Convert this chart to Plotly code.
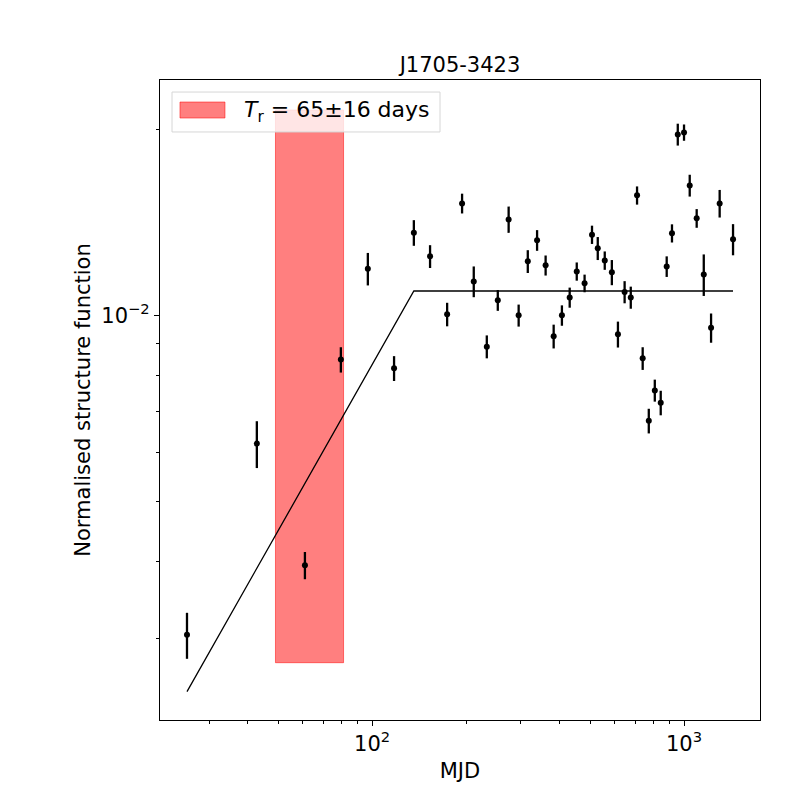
import plotly.graph_objects as go

# lag (days) and normalised structure function
lag = [25.5, 42.7, 60.9, 79.4, 96.9, 117.6, 136.1, 153.4, 174, 194.3,
       211.8, 233.2, 252.9, 274, 295, 315.6, 338, 360, 382, 406,
       430, 453, 480, 507, 529, 557, 587, 614, 645, 675,
       707, 737, 771, 806, 842, 880, 915, 955, 1000, 1043,
       1098, 1157, 1221, 1301, 1436]
sf = [0.00304, 0.00620, 0.00394, 0.00848, 0.01190, 0.00821, 0.01361, 0.01246, 0.01004, 0.01518,
      0.01135, 0.00890, 0.01058, 0.01430, 0.01000, 0.01223, 0.01323, 0.01205, 0.00925, 0.01000,
      0.01069, 0.01178, 0.01127, 0.01351, 0.01284, 0.01227, 0.01174, 0.00932, 0.01091, 0.01069,
      0.01564, 0.00852, 0.00675, 0.00756, 0.00722, 0.01200, 0.01358, 0.01963, 0.01977, 0.01623,
      0.01436, 0.01165, 0.00955, 0.01518, 0.01328]
sf_err = [0.00026, 0.00054, 0.00020, 0.00040, 0.00072, 0.00038, 0.00065, 0.00053, 0.00044, 0.00056,
          0.00065, 0.00038, 0.00041, 0.00070, 0.00041, 0.00052, 0.00051, 0.00045, 0.00041, 0.00038,
          0.00040, 0.00040, 0.00037, 0.00046, 0.00055, 0.00042, 0.00055, 0.00045, 0.00045, 0.00044,
          0.00053, 0.00036, 0.00031, 0.00031, 0.00033, 0.00046, 0.00046, 0.00080, 0.00060, 0.00066,
          0.00050, 0.00090, 0.00052, 0.00078, 0.00077]

# broken power-law fit
model_lag = [25.5, 136.1, 1436]
model_sf = [0.00246, 0.01095, 0.01095]

# refractive timescale
t_r = 65
t_r_err = 16
band_lo, band_hi = 0.00274, 0.0215

FONT = "DejaVu Sans"
FS = 21
RED = "rgba(255,0,0,0.5)"

fig = go.Figure()

bx = [t_r - t_r_err, t_r + t_r_err]
fig.add_trace(go.Scatter(
    x=[bx[0], bx[1], bx[1], bx[0], bx[0]],
    y=[band_lo, band_lo, band_hi, band_hi, band_lo],
    fill="toself", fillcolor=RED,
    line=dict(color=RED, width=1),
    mode="lines", showlegend=False,
))

fig.add_trace(go.Scatter(
    x=lag, y=sf, mode="markers",
    marker=dict(color="black", size=6),
    error_y=dict(type="data", array=sf_err, color="black", thickness=2.3, width=0),
    showlegend=False,
))

fig.add_trace(go.Scatter(
    x=model_lag, y=model_sf, mode="lines",
    line=dict(color="black", width=1.3),
    showlegend=False,
))

x_minor = [v * d for d in (10, 100) for v in range(2, 10)] + [2000]
y_minor = [v * 1e-3 for v in range(2, 10)] + [0.02]

axis_common = dict(
    type="log", showline=True, linecolor="black", linewidth=1.2, mirror=True,
    ticks="outside", ticklen=5, tickwidth=1.2, tickcolor="black",
    showgrid=False, zeroline=False,
    tickfont=dict(family=FONT, size=FS, color="black"),
)

fig.update_xaxes(
    **axis_common,
    range=[1.320, 3.2436],
    tickvals=[100, 1000], ticktext=["10<sup>2</sup>", "10<sup>3</sup>"],
    minor=dict(tickvals=x_minor, ticks="outside", ticklen=3, tickwidth=1, tickcolor="black"),
    title=dict(text="MJD", font=dict(family=FONT, size=FS, color="black"), standoff=8),
)
fig.update_yaxes(
    **axis_common,
    range=[-2.655, -1.619],
    tickvals=[0.01], ticktext=["10<sup>−2</sup>"],
    minor=dict(tickvals=y_minor, ticks="outside", ticklen=3, tickwidth=1, tickcolor="black"),
    title=dict(text="Normalised structure function", font=dict(family=FONT, size=FS, color="black"), standoff=4),
)

# hand-drawn legend (matplotlib-style patch)
fig.add_shape(type="rect", xref="paper", yref="paper", x0=0.02, x1=0.4667, y0=0.9188, y1=0.9812,
              fillcolor="rgba(255,255,255,0.8)", line=dict(color="#d6d6d6", width=1), layer="above")
fig.add_shape(type="rect", xref="paper", yref="paper", x0=0.0333, x1=0.1083, y0=0.9406, y1=0.9656,
              fillcolor=RED, line=dict(color=RED, width=1), layer="above")
fig.add_annotation(xref="paper", yref="paper", x=0.1367, y=0.951, xanchor="left", yanchor="middle",
                   text=f"<i>T</i><sub>r</sub> = {t_r}±{t_r_err} days", showarrow=False,
                   font=dict(family=FONT, size=22, color="black"))

fig.update_layout(
    width=792, height=792,
    margin=dict(l=152, r=40, t=72, b=80),
    paper_bgcolor="white", plot_bgcolor="white",
    title=dict(text="J1705-3423", x=452 / 792, xanchor="center", y=1 - 57 / 792, yanchor="middle",
               font=dict(family=FONT, size=FS, color="black")),
    showlegend=False,
    font=dict(family=FONT),
)

fig.write_html("out.html")
